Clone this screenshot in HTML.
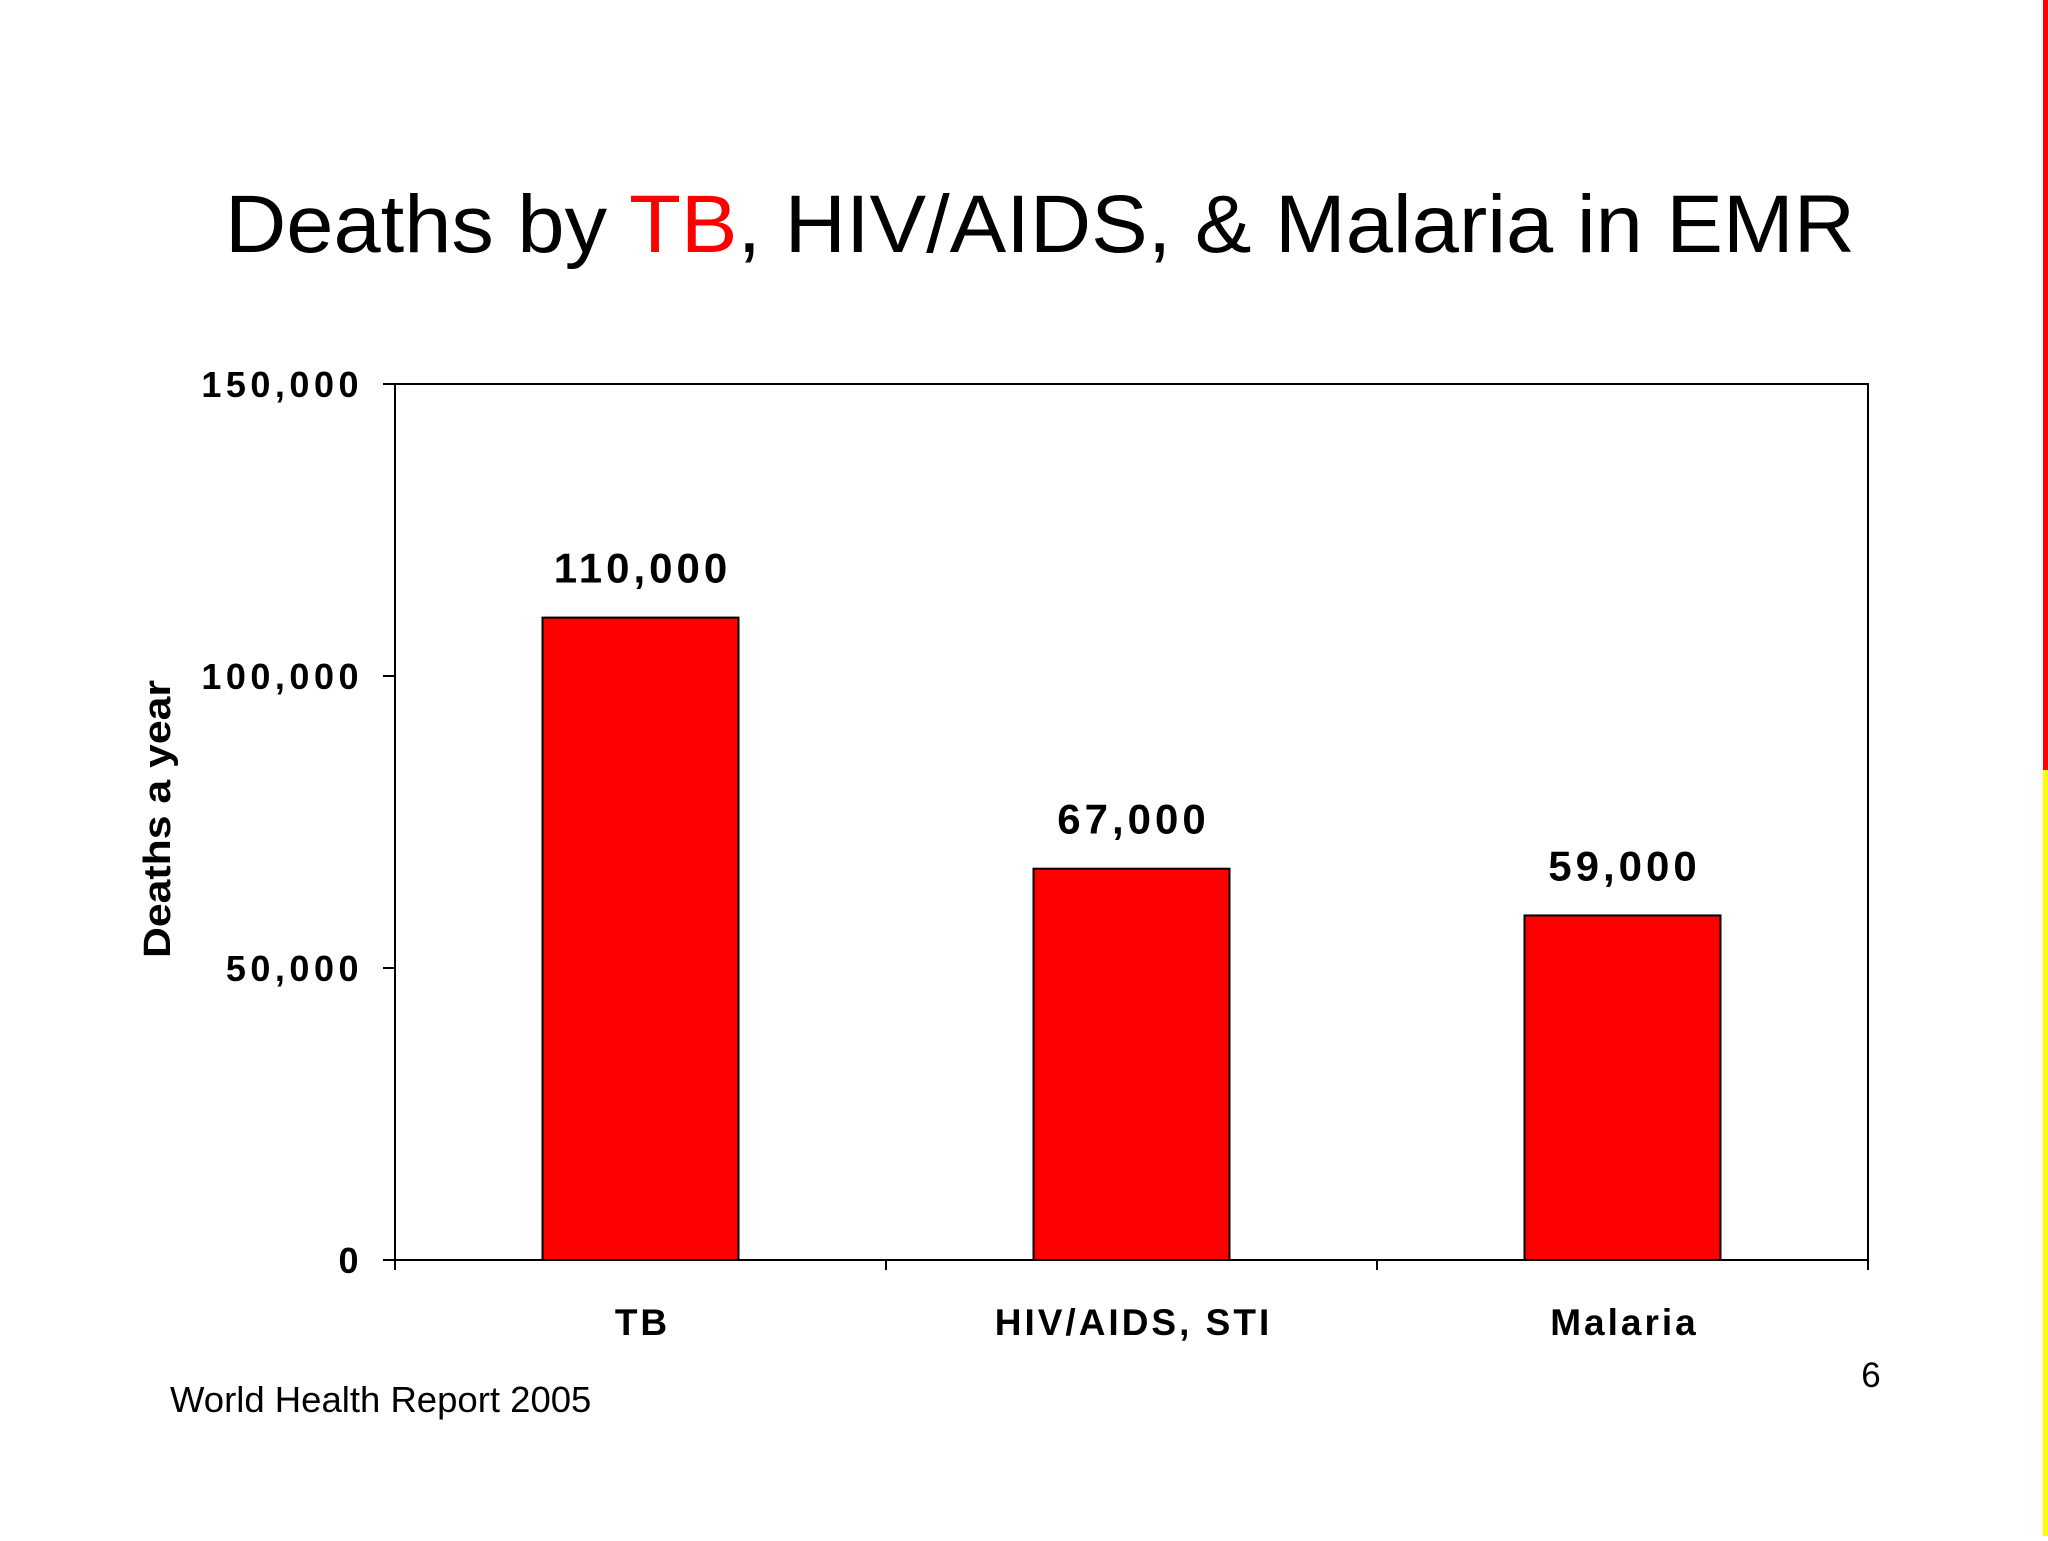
<!DOCTYPE html>
<html><head><meta charset="utf-8"><style>
body{margin:0;width:2048px;height:1536px;background:#fff;overflow:hidden;font-family:"Liberation Sans",sans-serif}
</style></head><body>
<svg width="2048" height="1536" xmlns="http://www.w3.org/2000/svg">
<rect x="2043" y="0" width="5" height="770" fill="#ff0000"/>
<rect x="2043" y="770" width="5" height="766" fill="#ffff00"/>
<text x="1040" y="252" text-anchor="middle" font-size="82" textLength="1630" lengthAdjust="spacingAndGlyphs" fill="#000">Deaths by <tspan fill="#ff0000">TB</tspan>, HIV/AIDS, &amp; Malaria in EMR</text>
<text transform="translate(170,819) rotate(-90)" text-anchor="middle" font-size="38" font-weight="bold" textLength="278" lengthAdjust="spacingAndGlyphs" fill="#000">Deaths a year</text>
<text x="170" y="1412" font-size="36.5" fill="#000">World Health Report 2005</text>
<text x="1871" y="1387" text-anchor="middle" font-size="35" fill="#000">6</text>
<g id="plot"></g>
</svg>
<script>
const categories=["TB","HIV/AIDS, STI","Malaria"];
const values=[110000,67000,59000];
const valueLabels=["110,000","67,000","59,000"];
const yTicks=[0,50000,100000,150000];
const yTickLabels=["0","50,000","100,000","150,000"];
const L=395,R=1868,T=384,B=1260,yMax=150000;
const y=v=>B-(v/yMax)*(B-T);
const band=(R-L)/categories.length;
const xc=i=>L+band*(i+0.5);
const barW=196;
const g=document.getElementById('plot');
const NS="http://www.w3.org/2000/svg";
function mk(t,a){const e=document.createElementNS(NS,t);for(const k in a)e.setAttribute(k,a[k]);g.appendChild(e);return e;}
const frame=mk('rect',{x:L,y:T,width:R-L,height:B-T,fill:'#fff',stroke:'#000','stroke-width':2});


yTicks.forEach((v,i)=>{
 const t=mk('line',{x1:L-12,x2:L,y1:y(v),y2:y(v),stroke:'#000','stroke-width':2});
 
 
 const l=mk('text',{x:363,y:y(v)+13,'text-anchor':'end','font-size':36,'font-weight':'bold','letter-spacing':4.5,fill:'#000'});
 l.textContent=yTickLabels[i];
 
 
});
for(let i=0;i<=categories.length;i++){
 const t=mk('line',{x1:L+band*i,x2:L+band*i,y1:B,y2:B+10,stroke:'#000','stroke-width':2});
 
 
}
categories.forEach((c,i)=>{
 const b=mk('rect',{x:xc(i)-barW/2,y:y(values[i]),width:barW,height:B-y(values[i]),fill:'#ff0000',stroke:'#000','stroke-width':2});
 
 
 const v=mk('text',{x:xc(i)+2,y:y(values[i])-35,'text-anchor':'middle','font-size':42,'font-weight':'bold','letter-spacing':4,fill:'#000'});
 v.textContent=valueLabels[i];
 
 
 const l=mk('text',{x:xc(i)+2,y:1335,'text-anchor':'middle','font-size':37,'font-weight':'bold','letter-spacing':3,fill:'#000'});
 l.textContent=c;
 
 
});
</script>
</body></html>
